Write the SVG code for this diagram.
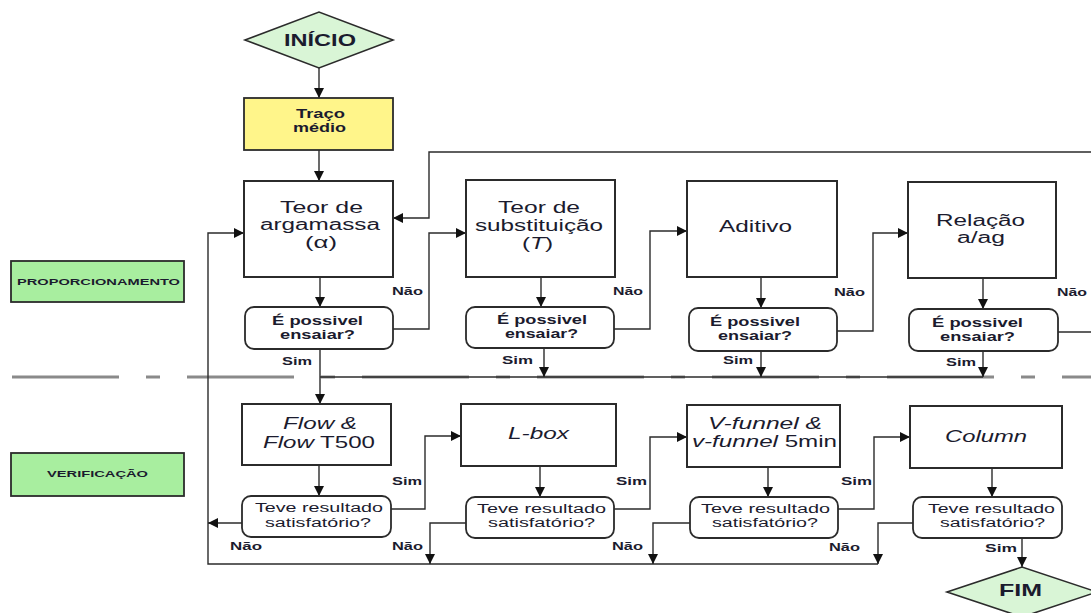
<svg xmlns="http://www.w3.org/2000/svg" width="1091" height="613" viewBox="0 0 1091 613">
<style>
.box{fill:#fff;stroke:#2b2b2b;stroke-width:2}
.dec{fill:#fff;stroke:#2b2b2b;stroke-width:1.8}
.term{fill:#d9f5d6;stroke:#2b2b2b;stroke-width:1.6}
.yel{fill:#fff58a;stroke:#2b2b2b;stroke-width:1.8}
.phase{fill:#a8ee9f;stroke:#2b2b2b;stroke-width:1.8}
text{font-family:"Liberation Sans",Arial,sans-serif;fill:#1b1b2e}
.t16{font-size:16px}
.t17b{font-size:17px;font-weight:bold}
.b12{font-size:12px;font-weight:bold}
.r12{font-size:12.5px}
.lbl{font-size:10px;font-weight:bold}
.ph{font-size:9.5px;font-weight:bold}
.it{font-style:italic}
.conn{fill:none;stroke:#2b2b2b;stroke-width:1.4}
.arr{marker-end:url(#ah)}
.sep{fill:none;stroke:#8a8a8a;stroke-width:3;stroke-dasharray:107 27 14 27}
</style>
<defs>
<marker id="ah" markerUnits="userSpaceOnUse" markerWidth="11" markerHeight="10" refX="10" refY="5" orient="auto">
<path d="M0,0 L10,5 L0,10 z" fill="#111"/>
</marker>
</defs>

<line class="sep" x1="12" y1="377" x2="1091" y2="377"/>

<g id="connectors">
<path class="conn arr" d="M319,68 V98"/>
<path class="conn arr" d="M319,150 V181"/>
<path class="conn arr" d="M320,277 V307"/>
<path class="conn arr" d="M393,329 H429 V233 H466"/>
<path class="conn arr" d="M1091,152 H429 V218 H393"/>
<path class="conn arr" d="M878,564 H208 V233 H244"/>
<path class="conn arr" d="M541,277 V307"/>
<path class="conn arr" d="M614,329 H650 V231 H687"/>
<path class="conn arr" d="M761,277 V308"/>
<path class="conn arr" d="M837,331 H873 V233 H908"/>
<path class="conn arr" d="M983,278 V309"/>
<path class="conn" d="M1058,332 H1091"/>
<path class="conn arr" d="M320,349 V404"/>
<path class="conn" d="M320,377 H983"/>
<path class="conn arr" d="M544,348 V377"/>
<path class="conn arr" d="M761,351 V377"/>
<path class="conn arr" d="M983,351 V377"/>
<path class="conn arr" d="M319,465 V496"/>
<path class="conn arr" d="M242,523 H208"/>
<path class="conn arr" d="M391,509 H425 V436 H461"/>
<path class="conn arr" d="M540,466 V497"/>
<path class="conn arr" d="M466,523 H430 V564"/>
<path class="conn arr" d="M614,509 H650 V437 H687"/>
<path class="conn arr" d="M768,467 V497"/>
<path class="conn arr" d="M690,523 H653 V564"/>
<path class="conn arr" d="M838,509 H874 V437 H910"/>
<path class="conn arr" d="M992,468 V497"/>
<path class="conn arr" d="M913,523 H878 V564"/>
<path class="conn arr" d="M1022,538 V567"/>
</g>

<g id="labels">
<text class="lbl" x="392" y="295" textLength="31" lengthAdjust="spacingAndGlyphs">Não</text>
<text class="lbl" x="613" y="295" textLength="30" lengthAdjust="spacingAndGlyphs">Não</text>
<text class="lbl" x="834" y="296" textLength="31" lengthAdjust="spacingAndGlyphs">Não</text>
<text class="lbl" x="1057" y="296" textLength="30" lengthAdjust="spacingAndGlyphs">Não</text>
<text class="lbl" x="282" y="365" textLength="30" lengthAdjust="spacingAndGlyphs">Sim</text>
<text class="lbl" x="502" y="364" textLength="31" lengthAdjust="spacingAndGlyphs">Sim</text>
<text class="lbl" x="723" y="364" textLength="30" lengthAdjust="spacingAndGlyphs">Sim</text>
<text class="lbl" x="946" y="366" textLength="30" lengthAdjust="spacingAndGlyphs">Sim</text>
<text class="lbl" x="392" y="485" textLength="30" lengthAdjust="spacingAndGlyphs">Sim</text>
<text class="lbl" x="616" y="485" textLength="31" lengthAdjust="spacingAndGlyphs">Sim</text>
<text class="lbl" x="841" y="485" textLength="31" lengthAdjust="spacingAndGlyphs">Sim</text>
<text class="lbl" x="230" y="550" textLength="32" lengthAdjust="spacingAndGlyphs">Não</text>
<text class="lbl" x="392" y="550" textLength="31" lengthAdjust="spacingAndGlyphs">Não</text>
<text class="lbl" x="612" y="550" textLength="31" lengthAdjust="spacingAndGlyphs">Não</text>
<text class="lbl" x="829" y="551" textLength="31" lengthAdjust="spacingAndGlyphs">Não</text>
<text class="lbl" x="985" y="552" textLength="32" lengthAdjust="spacingAndGlyphs">Sim</text>
</g>

<g id="inicio">
<polygon class="term" points="245,40 319,12 393,40 319,68"/>
<text class="t17b" x="284" y="46" textLength="72" lengthAdjust="spacingAndGlyphs">INÍCIO</text>
</g>
<g id="traco">
<rect class="yel" x="244" y="98" width="149" height="52"/>
<text class="b12" x="296" y="118" textLength="49" lengthAdjust="spacingAndGlyphs">Traço</text>
<text class="b12" x="293" y="132" textLength="53" lengthAdjust="spacingAndGlyphs">médio</text>
</g>
<g id="proporcionamento">
<rect class="phase" x="11" y="261" width="173" height="41"/>
<text class="ph" x="17" y="285" textLength="163" lengthAdjust="spacingAndGlyphs">PROPORCIONAMENTO</text>
</g>
<g id="verificacao">
<rect class="phase" x="11" y="453" width="173" height="43"/>
<text class="ph" x="47" y="477" textLength="101" lengthAdjust="spacingAndGlyphs">VERIFICAÇÃO</text>
</g>

<g id="teor-argamassa">
<rect class="box" x="244" y="181" width="149" height="96"/>
<text class="t16" x="280" y="213" textLength="83" lengthAdjust="spacingAndGlyphs">Teor de</text>
<text class="t16" x="260" y="230" textLength="120" lengthAdjust="spacingAndGlyphs">argamassa</text>
<text class="t16" x="305" y="248" textLength="32" lengthAdjust="spacingAndGlyphs">(α)</text>
</g>
<g id="dec-p1">
<rect class="dec" x="245" y="307" width="148" height="42" rx="9"/>
<text class="b12" x="272" y="325" textLength="91" lengthAdjust="spacingAndGlyphs">É possivel</text>
<text class="b12" x="280" y="339" textLength="75" lengthAdjust="spacingAndGlyphs">ensaiar?</text>
</g>
<g id="teor-substituicao">
<rect class="box" x="466" y="180" width="149" height="97"/>
<text class="t16" x="498" y="213" textLength="82" lengthAdjust="spacingAndGlyphs">Teor de</text>
<text class="t16" x="475" y="231" textLength="128" lengthAdjust="spacingAndGlyphs">substituição</text>
<text class="t16" x="522" y="249" textLength="31" lengthAdjust="spacingAndGlyphs">(<tspan class="it">T</tspan>)</text>
</g>
<g id="dec-p2">
<rect class="dec" x="466" y="307" width="148" height="41" rx="9"/>
<text class="b12" x="497" y="324" textLength="90" lengthAdjust="spacingAndGlyphs">É possivel</text>
<text class="b12" x="505" y="338" textLength="73" lengthAdjust="spacingAndGlyphs">ensaiar?</text>
</g>
<g id="aditivo">
<rect class="box" x="687" y="181" width="150" height="96"/>
<text class="t16" x="719" y="232" textLength="73" lengthAdjust="spacingAndGlyphs">Aditivo</text>
</g>
<g id="dec-p3">
<rect class="dec" x="689" y="308" width="148" height="43" rx="9"/>
<text class="b12" x="710" y="326" textLength="90" lengthAdjust="spacingAndGlyphs">É possivel</text>
<text class="b12" x="718" y="340" textLength="74" lengthAdjust="spacingAndGlyphs">ensaiar?</text>
</g>
<g id="relacao">
<rect class="box" x="908" y="182" width="148" height="96"/>
<text class="t16" x="936" y="226" textLength="89" lengthAdjust="spacingAndGlyphs">Relação</text>
<text class="t16" x="957" y="243" textLength="48" lengthAdjust="spacingAndGlyphs">a/ag</text>
</g>
<g id="dec-p4">
<rect class="dec" x="909" y="309" width="149" height="42" rx="9"/>
<text class="b12" x="932" y="327" textLength="91" lengthAdjust="spacingAndGlyphs">É possivel</text>
<text class="b12" x="940" y="341" textLength="75" lengthAdjust="spacingAndGlyphs">ensaiar?</text>
</g>

<g id="flow">
<rect class="box" x="242" y="404" width="149" height="61"/>
<text class="t16 it" x="283" y="429" textLength="74" lengthAdjust="spacingAndGlyphs">Flow &amp;</text>
<text class="t16" x="263" y="448" textLength="112" lengthAdjust="spacingAndGlyphs"><tspan class="it">Flow</tspan> T500</text>
</g>
<g id="dec-v1">
<rect class="dec" x="242" y="496" width="149" height="41" rx="9"/>
<text class="r12" x="255" y="512" textLength="128" lengthAdjust="spacingAndGlyphs">Teve resultado</text>
<text class="r12" x="265" y="527" textLength="106" lengthAdjust="spacingAndGlyphs">satisfatório?</text>
</g>
<g id="lbox">
<rect class="box" x="461" y="404" width="155" height="62"/>
<text class="t16 it" x="508" y="439" textLength="61" lengthAdjust="spacingAndGlyphs">L-box</text>
</g>
<g id="dec-v2">
<rect class="dec" x="466" y="497" width="148" height="41" rx="9"/>
<text class="r12" x="477" y="513" textLength="129" lengthAdjust="spacingAndGlyphs">Teve resultado</text>
<text class="r12" x="488" y="527" textLength="107" lengthAdjust="spacingAndGlyphs">satisfatório?</text>
</g>
<g id="vfunnel">
<rect class="box" x="687" y="405" width="153" height="62"/>
<text class="t16 it" x="708" y="429" textLength="114" lengthAdjust="spacingAndGlyphs">V-funnel &amp;</text>
<text class="t16" x="692" y="447" textLength="145" lengthAdjust="spacingAndGlyphs"><tspan class="it">v-funnel</tspan> 5min</text>
</g>
<g id="dec-v3">
<rect class="dec" x="690" y="497" width="148" height="41" rx="9"/>
<text class="r12" x="701" y="513" textLength="129" lengthAdjust="spacingAndGlyphs">Teve resultado</text>
<text class="r12" x="712" y="527" textLength="106" lengthAdjust="spacingAndGlyphs">satisfatório?</text>
</g>
<g id="column">
<rect class="box" x="910" y="406" width="152" height="62"/>
<text class="t16 it" x="945" y="442" textLength="82" lengthAdjust="spacingAndGlyphs">Column</text>
</g>
<g id="dec-v4">
<rect class="dec" x="913" y="497" width="149" height="41" rx="9"/>
<text class="r12" x="928" y="513" textLength="127" lengthAdjust="spacingAndGlyphs">Teve resultado</text>
<text class="r12" x="940" y="527" textLength="105" lengthAdjust="spacingAndGlyphs">satisfatório?</text>
</g>
<g id="fim">
<polygon class="term" points="947,592 1022,567 1097,592 1022,617"/>
<text class="t17b" x="999" y="596" textLength="43" lengthAdjust="spacingAndGlyphs">FIM</text>
</g>
</svg>
